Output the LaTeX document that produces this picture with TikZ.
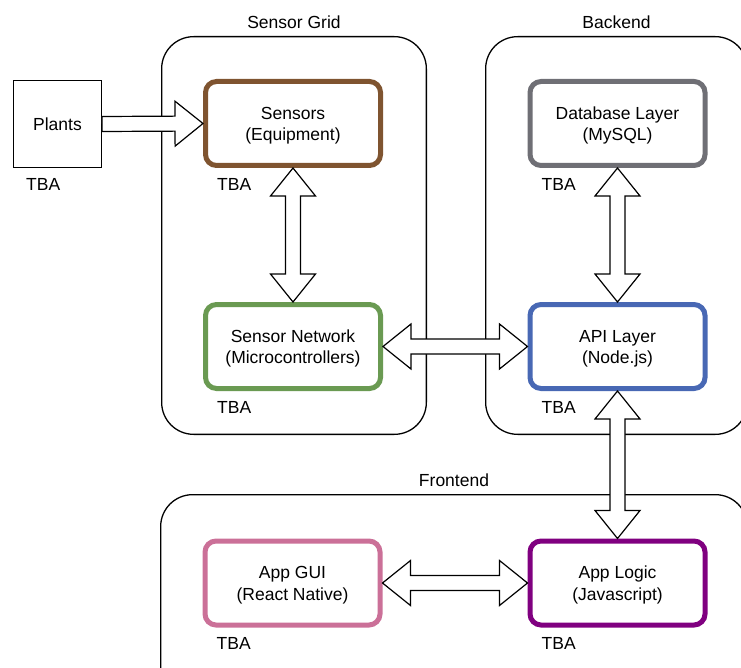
\documentclass[tikz,border=0pt]{standalone}
\usepackage{fontspec}
\setmainfont{Liberation Sans}
\usepackage{tikz}
\usetikzlibrary{positioning,calc}
\definecolor{sensorbrown}{HTML}{7F5430}
\definecolor{netgreen}{HTML}{6A9A52}
\definecolor{dbgray}{HTML}{6F6F75}
\definecolor{apiblue}{HTML}{4868B4}
\definecolor{guipink}{HTML}{CB7098}
\definecolor{logicpurple}{HTML}{800080}
\tikzstyle{group} = [draw, line width=1.3pt, rounded corners=32pt, inner sep=0pt]
\tikzstyle{layer} = [draw, line width=5pt, rounded corners=11pt, minimum width=175pt, minimum height=84pt, align=center, fill=white, text height=38pt]
\tikzstyle{plain} = [draw, line width=1.3pt, minimum width=87.7pt, minimum height=86.7pt, fill=white]
\tikzstyle{tba} = [inner sep=0pt]
\tikzstyle{grouplabel} = [inner sep=0pt]
\tikzstyle{blockarrow} = [draw, fill=white, line width=1.2pt, line join=miter]
\newcommand{\oneway}[2]{%
	\draw[blockarrow] let \p1=(#1), \p2=(#2), \n1={atan2(\y2-\y1,\x2-\x1)}, \n2={veclen(\x2-\x1,\y2-\y1)} in
		[shift={(\x1,\y1)}, rotate=\n1]
		(0pt,7.5pt) -- (\n2-28pt,7.5pt) -- (\n2-28pt,22.5pt) -- (\n2,0pt) -- (\n2-28pt,-22.5pt) -- (\n2-28pt,-7.5pt) -- (0pt,-7.5pt) -- cycle;}
\newcommand{\twoway}[2]{%
	\draw[blockarrow] let \p1=(#1), \p2=(#2), \n1={atan2(\y2-\y1,\x2-\x1)}, \n2={veclen(\x2-\x1,\y2-\y1)} in
		[shift={(\x1,\y1)}, rotate=\n1]
		(0pt,0pt) -- (28pt,22.5pt) -- (28pt,7.5pt) -- (\n2-28pt,7.5pt) -- (\n2-28pt,22.5pt) -- (\n2,0pt) -- (\n2-28pt,-22.5pt) -- (\n2-28pt,-7.5pt) -- (28pt,-7.5pt) -- (28pt,-22.5pt) -- cycle;}

\begin{document}
\begin{tikzpicture}[x=1pt, y=-1pt, font=\fontsize{17.5}{21.5}\selectfont]
			\path[use as bounding box, clip] (0,0) rectangle (741,668);
			\node[group, minimum width=264.7pt, minimum height=397.7pt] (grid) at (294, 235.5) {};
			\node[group, minimum width=261.7pt, minimum height=397.7pt] (backend) at (616.5, 235.5) {};
			\node[group, minimum width=586.7pt, minimum height=204.7pt] (frontend) at (454, 597) {};
			\node[grouplabel, above = 7pt of grid] {Sensor Grid};
			\node[grouplabel, above = 7pt of backend] {Backend};
			\node[grouplabel, above = 7pt of frontend] {Frontend};
			\node[plain] (plants) at (57.5, 124) {Plants};
			\node[layer, draw=sensorbrown] (sensors) at (293, 123.5) {Sensors\\(Equipment)};
			\node[layer, draw=netgreen] (network) at (293, 346.5) {Sensor Network\\(Microcontrollers)};
			\node[layer, draw=dbgray] (db) at (617.5, 123.5) {Database Layer\\(MySQL)};
			\node[layer, draw=apiblue] (api) at (617.5, 346.5) {API Layer\\(Node.js)};
			\node[layer, draw=guipink] (gui) at (292.5, 583) {App GUI\\(React Native)};
			\node[layer, draw=logicpurple] (logic) at (617.5, 583) {App Logic\\(Javascript)};
			\node[tba, below right = 10pt and 13pt of plants.south west] {TBA};
			\node[tba, below right = 10pt and 14pt of sensors.south west] {TBA};
			\node[tba, below right = 10pt and 14pt of network.south west] {TBA};
			\node[tba, below right = 10pt and 14pt of db.south west] {TBA};
			\node[tba, below right = 10pt and 14pt of api.south west] {TBA};
			\node[tba, below right = 10pt and 14pt of gui.south west] {TBA};
			\node[tba, below right = 10pt and 14pt of logic.south west] {TBA};
			\oneway{plants.east}{sensors.west}
			\twoway{sensors.south}{network.north}
			\twoway{network.east}{api.west}
			\twoway{db.south}{api.north}
			\twoway{api.south}{logic.north}
			\twoway{gui.east}{logic.west}
		\end{tikzpicture}
\end{document}
